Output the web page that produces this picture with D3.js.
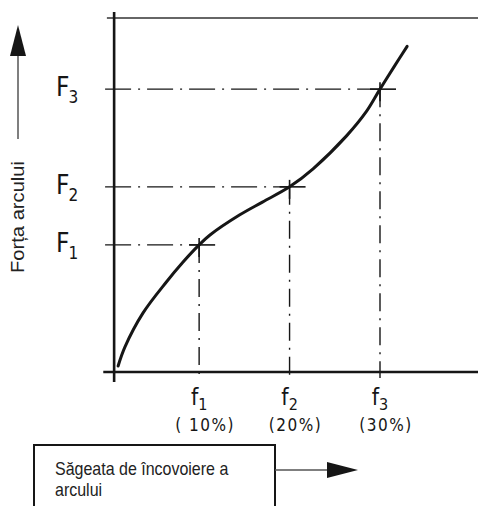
<!DOCTYPE html>
<html><head><meta charset="utf-8">
<script src="https://cdn.jsdelivr.net/npm/d3@7"></script>
<style>html,body{margin:0;padding:0;background:#fff;} svg{display:block}</style>
</head><body><svg id="c" width="478" height="506"></svg>
<script>
// ---- data (deflection in %, force in relative units 0..100) ----
const curveDeflection = [1.04, 1.8, 3.8, 6.4, 8.2, 10, 11.2, 14.5, 17, 20, 22.6, 26.3, 28.5, 30, 31.6, 33];
const curveForce      = [1.7, 7.1, 16.7, 25.5, 31.0, 35.9, 38.7, 44.4, 48, 52.3, 57.4, 66.7, 73.6, 79.9, 86.4, 92.0];
const markDeflection = [10, 20, 30];
const markForce = [35.9, 52.3, 79.9];
const markSubs = ["1", "2", "3"];
const pctLabels = ["( 10%)", "(20%)", "(30%)"];
const yAxisTitle = "Forța arcului";
const xAxisTitle = ["Săgeata de încovoiere a", "arcului"];

const svg = d3.select("#c");
const x = d3.scaleLinear().domain([0, 30]).range([108.7, 380]);
const y = d3.scaleLinear().domain([0, 100]).range([372, 18]);
const origin = 0.6;       // y axis crosses x at this deflection
const ink = "#161616";
const techFont = "'DejaVu Sans Condensed','Liberation Sans Narrow','DejaVu Sans',sans-serif";

// top frame line
svg.append("line").attr("x1", x(-0.2)).attr("x2", 478).attr("y1", y(100)).attr("y2", y(100))
  .attr("stroke", "#333").attr("stroke-width", 1.4);

// dash-dot guide lines
const dash = "26,7,2,7";
markForce.forEach((f, i) => {
  svg.append("line").attr("x1", x(-0.4)).attr("x2", x(markDeflection[i]))
    .attr("y1", y(f)).attr("y2", y(f))
    .attr("stroke", ink).attr("stroke-width", 1.4).attr("stroke-dasharray", dash);
  svg.append("line").attr("x1", x(markDeflection[i])).attr("x2", x(markDeflection[i]))
    .attr("y1", y(f)).attr("y2", y(-1.7))
    .attr("stroke", ink).attr("stroke-width", 1.4).attr("stroke-dasharray", "18,7,2,7");
  // cross marks at points
  svg.append("line").attr("x1", x(markDeflection[i]) - 10).attr("x2", x(markDeflection[i]) + 16)
    .attr("y1", y(f)).attr("y2", y(f)).attr("stroke", ink).attr("stroke-width", 1.6);
  svg.append("line").attr("x1", x(markDeflection[i])).attr("x2", x(markDeflection[i]))
    .attr("y1", y(f) - 7).attr("y2", y(f) + 12).attr("stroke", ink).attr("stroke-width", 1.6);
});

// axes
svg.append("line").attr("x1", x(origin)).attr("x2", x(origin)).attr("y1", y(101.7)).attr("y2", y(-2.8))
  .attr("stroke", ink).attr("stroke-width", 2.6);
svg.append("line").attr("x1", x(-0.6)).attr("x2", 478).attr("y1", y(0)).attr("y2", y(0))
  .attr("stroke", ink).attr("stroke-width", 2.6);

// curve
const line = d3.line().x(d => x(d[0])).y(d => y(d[1])).curve(d3.curveCatmullRom.alpha(0.5));
svg.append("path").datum(d3.zip(curveDeflection, curveForce)).attr("d", line)
  .attr("fill", "none").attr("stroke", ink).attr("stroke-width", 3).attr("stroke-linecap", "round");

// F labels
markForce.forEach((f, i) => {
  const t = svg.append("text").attr("x", 56).attr("y", y(f) + 7)
    .attr("font-family", techFont).attr("font-size", 26).attr("fill", ink);
  t.append("tspan").text("F");
  t.append("tspan").attr("dx", -1).attr("dy", 7).attr("font-size", 17).text(markSubs[i]);
});

// f labels
markDeflection.forEach((d, i) => {
  const t = svg.append("text").attr("x", x(d)).attr("y", 405).attr("text-anchor", "middle")
    .attr("font-family", techFont).attr("font-size", 23).attr("fill", ink);
  t.append("tspan").text("f");
  t.append("tspan").attr("dy", 5).attr("font-size", 16).text(markSubs[i]);
  svg.append("text").attr("x", x(d) + 6).attr("y", 431).attr("text-anchor", "middle")
    .attr("font-family", techFont).attr("font-size", 17).attr("letter-spacing", 1.5)
    .attr("fill", ink).text(pctLabels[i]);
});

// y axis title with arrow
svg.append("line").attr("x1", 18).attr("x2", 18).attr("y1", 139).attr("y2", 55)
  .attr("stroke", "#555").attr("stroke-width", 1.5);
svg.append("path").attr("d", d3.line()([[18, 25], [10, 56], [26, 56]]) + "Z").attr("fill", ink);
svg.append("text").attr("transform", "translate(24,217) rotate(-90) scale(1.12,1)")
  .attr("text-anchor", "middle").attr("font-family", "'Liberation Sans',Arial,sans-serif")
  .attr("font-size", 18).attr("fill", "#222").text(yAxisTitle);

// x axis title box with arrow
svg.append("rect").attr("x", 34).attr("y", 445).attr("width", 241).attr("height", 90)
  .attr("fill", "none").attr("stroke", ink).attr("stroke-width", 2);
xAxisTitle.forEach((s, i) => {
  svg.append("text").attr("transform", `translate(55,${475 + i * 21}) scale(1,1.2)`)
    .attr("font-family", "'Liberation Sans',Arial,sans-serif").attr("font-size", 16)
    .attr("fill", "#222").text(s);
});
svg.append("line").attr("x1", 275).attr("x2", 330).attr("y1", 470).attr("y2", 470)
  .attr("stroke", "#555").attr("stroke-width", 1.5);
svg.append("path").attr("d", d3.line()([[327, 462], [358, 470], [327, 478]]) + "Z").attr("fill", ink);
</script></body></html>
